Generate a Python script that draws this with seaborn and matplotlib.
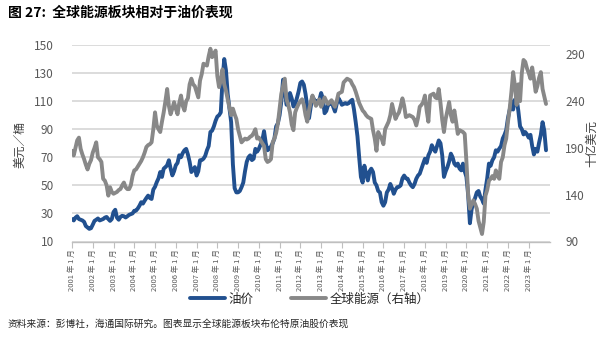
import numpy as np
import pandas as pd
import matplotlib
matplotlib.use("Agg")
import matplotlib.pyplot as plt
import seaborn as sns

# ---------------- data (monthly, 2001-01 .. 2023-11) ----------------
oil = [
    26, 25, 27, 28, 26, 25.5, 25, 24, 21, 20, 19, 19.5,                       # 2001
    22, 24.7, 25.5, 26.4, 25, 25.5, 26, 27, 27.5, 26, 24.7, 26,               # 2002
    31, 32.6, 27, 25.5, 27.5, 28.3, 28, 27.1, 28, 29, 29.5, 30,               # 2003
    31.9, 32, 33.5, 35.5, 38, 37, 39.1, 41, 42.7, 41, 40.3, 47,               # 2004
    49, 52.3, 55, 59.5, 56, 61.9, 63, 64.3, 67.9, 62, 57.1, 60,               # 2005
    64.3, 66, 71.4, 70, 73, 75, 76, 72, 66.7, 59.5, 61, 63,                   # 2006
    57, 60, 67.9, 68, 69, 71, 75, 78, 88, 89, 92, 96,                         # 2007
    99, 100, 102, 125, 140, 132, 115, 105, 95, 65, 48, 45,                    # 2008
    45, 46, 48.7, 52, 60, 66.7, 70, 71.4, 68, 69, 76, 74,                     # 2009
    76, 78.9, 82, 88.6, 80, 75, 76, 77.6, 80, 83.4, 92, 94.2,                 # 2010
    100, 109.8, 125.3, 118, 107.4, 110, 115.8, 112, 106.2, 108, 112.2, 117,   # 2011
    123, 124, 121.7, 115, 106, 97.8, 106, 113.4, 111, 109.8, 110, 111,        # 2012
    115.8, 112, 101.4, 103, 107.4, 108, 109.8, 106, 102.6, 108, 112.2, 110,   # 2013
    107.4, 108, 108.6, 108, 108.6, 110, 111, 104, 95, 85, 70, 56,             # 2014
    52, 64, 58, 53.5, 60, 61.9, 59.5, 52, 50, 46, 45, 38,                     # 2015
    35.5, 38, 45, 47, 51, 48, 44, 47, 48.7, 49, 50, 55,                       # 2016
    57, 55, 54.7, 52, 50, 48.7, 51, 54.7, 57, 58.3, 62, 65.5,                 # 2017
    69, 66, 71.4, 74, 78.6, 76, 74, 78, 82, 80, 71.4, 56,                     # 2018
    60, 63, 67, 72.6, 70, 65.5, 64, 65.5, 62, 60.7, 65.5, 60,                 # 2019
    56, 43, 23, 33, 38, 41, 45, 46, 42, 40, 37, 47,                           # 2020
    55, 65.5, 64, 67.9, 70, 75, 74, 76.2, 78, 83.4, 86, 89.4,                 # 2021
    98, 103.8, 110, 104, 111, 112, 103, 92, 90, 86.3, 88, 86.3,               # 2022
    84, 86, 78, 72, 76, 74, 80.5, 86, 95, 89, 75,                             # 2023
]
energy = [
    187, 182, 190, 198, 201, 189, 183, 178, 172, 167, 173, 177,               # 2001
    185, 190, 196, 180, 178, 175, 157, 155, 150, 139, 148, 143,               # 2002
    141, 142, 143, 145, 146, 150, 153, 148, 146, 146, 150, 160,               # 2003
    166, 167, 170, 173, 176, 180, 185, 191, 193, 194, 196, 210,               # 2004
    228, 214, 210, 207, 218, 228, 240, 253, 235, 226, 232, 239,               # 2005
    232, 226, 238, 246, 235, 230, 240, 243, 258, 264, 258, 256,               # 2006
    250, 244, 262, 269, 280, 279, 278, 288, 296, 287, 290, 294,               # 2007
    267, 255, 262, 274, 258, 251, 242, 233, 225, 232, 226, 221,               # 2008
    210, 203, 196, 198, 200, 199, 200, 202, 203, 206, 210, 200,               # 2009
    201, 198, 195, 192, 178, 175, 176, 178, 196, 200, 206, 216,               # 2010
    232, 248, 256, 264, 242, 236, 228, 215, 209, 228, 233, 237,               # 2011
    240, 242, 236, 225, 218, 230, 239, 246, 240, 235, 238, 242,               # 2012
    234, 238, 244, 240, 237, 239, 241, 237, 234, 240, 248, 249,               # 2013
    250, 260, 262, 264, 263, 262, 258, 255, 250, 244, 238, 234,               # 2014
    230, 228, 225, 223, 222, 221, 209, 200, 187, 207, 203, 200,               # 2015
    194, 210, 214, 218, 225, 237, 229, 221, 225, 228, 235, 243,               # 2016
    235, 223, 224, 225, 224, 223, 220, 214, 222, 234, 236, 239,               # 2017
    246, 230, 218, 246, 247, 248, 244, 243, 253, 238, 220, 207,               # 2018
    221, 230, 239, 225, 218, 230, 218, 205, 209, 208, 207, 205,               # 2019
    175, 140, 125, 130, 134, 130, 125, 112, 105, 98, 111, 139,                # 2020
    145, 155, 157, 160, 157, 166, 160, 157, 175, 180, 193, 200,               # 2021
    218, 232, 250, 271, 257, 236, 258, 240, 270, 284, 282, 275,               # 2022
    270, 264, 276, 264, 250, 256, 265, 271, 253, 245, 237,                    # 2023
]
years = list(range(2001, 2024))
x_tick_labels = [f"{y} 年 1 月" for y in years]
left_ticks = [10, 30, 50, 70, 90, 110, 130, 150]
right_ticks = [90, 140, 190, 240, 290]
series_names = ["油价", "全球能源（右轴）"]

title = "图 27:  全球能源板块相对于油价表现"
source = "资料来源：彭博社，海通国际研究。图表显示全球能源板块布伦特原油股价表现"

# ---------------- style ----------------
BLUE = "#21508F"
GRAY = "#888888"
TXT = "#595959"

sns.set_theme(style="white")
plt.rcParams["font.family"] = ["Noto Sans CJK SC", "DejaVu Sans"]

W, H = 597, 339
fig = plt.figure(figsize=(W / 100, H / 100), dpi=100)
ax = fig.add_axes([72 / W, 1 - 241.5 / H, 478 / W, 196.5 / H])

df = pd.DataFrame({"month": np.arange(len(oil)), "oil": oil, "energy": energy})

sns.lineplot(data=df, x="month", y="oil", ax=ax, color=BLUE, linewidth=2.8,
             legend=False, zorder=3)
ax2 = ax.twinx()
sns.lineplot(data=df, x="month", y="energy", ax=ax2, color=GRAY, linewidth=2.8,
             legend=False, zorder=3)

# axes ranges / ticks
ax.set_xlim(0, 276.3)
ax.set_ylim(10, 150)
ax2.set_ylim(90, 300)
ax.set_yticks(left_ticks)
ax2.set_yticks(right_ticks)
ax.set_xticks([12 * i for i in range(len(years))])
ax.set_xticklabels(x_tick_labels, rotation=90, fontsize=5.5, color=TXT)
ax.set_xlabel("")
ax.set_ylabel("")
ax2.set_ylabel("")

ax.yaxis.grid(True, color="#D9D9D9", linewidth=1.3)
ax.xaxis.grid(False)
ax.set_axisbelow(True)

for s in ["top", "left", "right"]:
    ax.spines[s].set_visible(False)
for s in ["top", "left", "right", "bottom"]:
    ax2.spines[s].set_visible(False)
ax.spines["bottom"].set_color("#BFBFBF")
ax.spines["bottom"].set_linewidth(1.0)

ax.tick_params(axis="x", direction="out", length=4, width=0.8, color="#BFBFBF",
               pad=1.5, bottom=True)
ax.tick_params(axis="y", length=0, pad=13, labelsize=8.5, labelcolor=TXT)
ax2.tick_params(axis="y", length=0, pad=11, labelsize=8.5, labelcolor=TXT)

# legend
handles = [ax.lines[0], ax2.lines[0]]
fig.legend(handles, series_names, loc="center", bbox_to_anchor=(310 / W, 1 - 299 / H),
           ncol=2, frameon=False, fontsize=9, handlelength=2.8, handletextpad=0.3,
           columnspacing=3.0, labelcolor="#262626", borderpad=0.2)

# axis titles
fig.text(20 / W, 1 - 145 / H, "美元／桶", rotation=90, ha="center", va="center",
         fontsize=8.5, color="#404040")
fig.text(592 / W, 1 - 143 / H, "十亿美元", rotation=90, ha="center", va="center",
         fontsize=8.5, color="#404040")

# title & source
fig.text(8 / W, 1 - 13 / H, title, ha="left", va="center", fontsize=10,
         fontweight="bold", color="#000000")
fig.text(8 / W, 1 - 323.5 / H, source, ha="left", va="center", fontsize=7,
         color="#262626")

fig.savefig("out.png", dpi=100)
